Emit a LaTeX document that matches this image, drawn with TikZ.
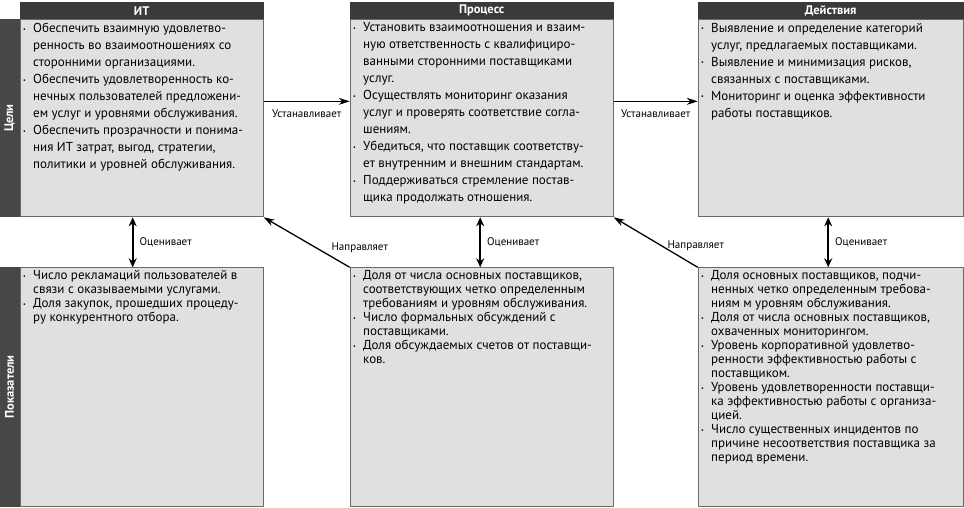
\documentclass[tikz,border=0pt]{standalone}
\usepackage{fontspec}
\setmainfont{PT Sans}
\usetikzlibrary{arrows.meta,positioning,calc}
\definecolor{HdrGray}{HTML}{3A3A3A}
\definecolor{SideGray}{HTML}{474747}
\definecolor{BoxGray}{HTML}{E0E0E0}
\definecolor{EdgeGray}{HTML}{6A6A6A}
\newcommand{\bl}{\makebox[10pt][l]{\raisebox{1.2pt}{\fontsize{6}{6}\selectfont\textbullet}}}
\newcommand{\cn}{\hspace*{10pt}}
\newcommand{\boxtext}[3]{\parbox[t][#2][t]{#1}{#3}}

\begin{document}
\begin{tikzpicture}[x=1pt,y=1pt,
  hdr/.style={fill=HdrGray,draw=HdrGray,text=white,font=\bfseries\fontsize{12.5}{14}\selectfont,minimum height=17pt,inner sep=0pt,anchor=north west},
  goal/.style={fill=BoxGray,draw=EdgeGray,line width=0.9pt,inner sep=3pt,font=\fontsize{13}{17}\selectfont},
  metric/.style={goal,font=\fontsize{13}{14}\selectfont},
  side/.style={fill=SideGray,draw=SideGray,text=white,font=\bfseries\fontsize{12.5}{14}\selectfont,minimum width=20pt,inner sep=0pt,anchor=north east},
  lbl/.style={font=\fontsize{11}{12}\selectfont,inner sep=1pt},
  arr/.style={-{Stealth[length=11pt,width=7pt]},line width=1.3pt},
  twin/.style={{Stealth[length=9pt,width=8pt]}-{Stealth[length=9pt,width=8pt]},line width=2pt}]
  \useasboundingbox (0,0) rectangle (964,-507);
  % headers
  \node[hdr,minimum width=243pt] (itHead) at (20,-2) {ИТ};
  \node[hdr,minimum width=263pt] (prHead) at (350,-2) {Процесс};
  \node[hdr,minimum width=265pt] (dsHead) at (698,-2) {Действия};
  % goals
  \node[goal,below=0pt of itHead] (itGoal) {\boxtext{237pt}{191pt}{%
    \bl Обеспечить взаимную удовлетво-\\
    \cn ренность во взаимоотношениях со\\
    \cn сторонними организациями.\\
    \bl Обеспечить удовлетворенность ко-\\
    \cn нечных пользователей предложени-\\
    \cn ем услуг и уровнями обслуживания.\\
    \bl Обеспечить прозрачности и понима-\\
    \cn ния ИТ затрат, выгод, стратегии,\\
    \cn политики и уровней обслуживания.}};
  \node[goal,below=0pt of prHead] (prGoal) {\boxtext{257pt}{191pt}{%
    \bl Установить взаимоотношения и взаим-\\
    \cn ную ответственность с квалифициро-\\
    \cn ванными сторонними поставщиками\\
    \cn услуг.\\
    \bl Осуществлять мониторинг оказания\\
    \cn услуг и проверять соответствие согла-\\
    \cn шениям.\\
    \bl Убедиться, что поставщик соответству-\\
    \cn ет внутренним и внешним стандартам.\\
    \bl Поддерживаться стремление постав-\\
    \cn щика продолжать отношения.}};
  \node[goal,below=0pt of dsHead] (dsGoal) {\boxtext{259pt}{191pt}{%
    \bl Выявление и определение категорий\\
    \cn услуг, предлагаемых поставщиками.\\
    \bl Выявление и минимизация рисков,\\
    \cn связанных с поставщиками.\\
    \bl Мониторинг и оценка эффективности\\
    \cn работы поставщиков.}};
  % metrics
  \node[metric,below=50pt of itGoal] (itMet) {\boxtext{237pt}{233pt}{%
    \bl Число рекламаций пользователей в\\
    \cn связи с оказываемыми услугами.\\
    \bl Доля закупок, прошедших процеду-\\
    \cn ру конкурентного отбора.}};
  \node[metric,below=50pt of prGoal] (prMet) {\boxtext{257pt}{233pt}{%
    \bl Доля от числа основных поставщиков,\\
    \cn соответствующих четко определенным\\
    \cn требованиям и уровням обслуживания.\\
    \bl Число формальных обсуждений с\\
    \cn поставщиками.\\
    \bl Доля обсуждаемых счетов от поставщи-\\
    \cn ков.}};
  \node[metric,below=50pt of dsGoal] (dsMet) {\boxtext{259pt}{233pt}{%
    \bl Доля основных поставщиков, подчи-\\
    \cn ненных четко определенным требова-\\
    \cn ниям м уровням обслуживания.\\
    \bl Доля от числа основных поставщиков,\\
    \cn охваченных мониторингом.\\
    \bl Уровень корпоративной удовлетво-\\
    \cn ренности эффективностью работы с\\
    \cn поставщиком.\\
    \bl Уровень удовлетворенности поставщи-\\
    \cn ка эффективностью работы с организа-\\
    \cn цией.\\
    \bl Число существенных инцидентов по\\
    \cn причине несоответствия поставщика за\\
    \cn период времени.}};
  % side bars
  \node[side,minimum height=197pt] (goalBar) at (itGoal.north west) {\rotatebox{90}{Цели}};
  \node[side,minimum height=239pt] (metBar) at (itMet.north west) {\rotatebox{90}{Показатели}};
  % connectors
  \draw[arr] ([yshift=17pt]itGoal.east) -- node[lbl,below=7pt]{Устанавливает} ([yshift=17pt]prGoal.west);
  \draw[arr] ([yshift=17pt]prGoal.east) -- node[lbl,below=7pt]{Устанавливает} ([yshift=17pt]dsGoal.west);
  \draw[twin] ([xshift=-9pt]itGoal.south) -- node[lbl,right=5pt]{Оценивает} ([xshift=-9pt]itMet.north);
  \draw[twin] ([xshift=-1.5pt]prGoal.south) -- node[lbl,right=5pt]{Оценивает} ([xshift=-1.5pt]prMet.north);
  \draw[twin] ([xshift=-2.5pt]dsGoal.south) -- node[lbl,right=5pt]{Оценивает} ([xshift=-2.5pt]dsMet.north);
  \draw[arr] (prMet.north west) -- node[lbl,pos=0,xshift=10pt,yshift=20pt]{Направляет} (itGoal.south east);
  \draw[arr] (dsMet.north west) -- node[lbl,pos=0,xshift=-2pt,yshift=22pt]{Направляет} (prGoal.south east);
\end{tikzpicture}
\end{document}
